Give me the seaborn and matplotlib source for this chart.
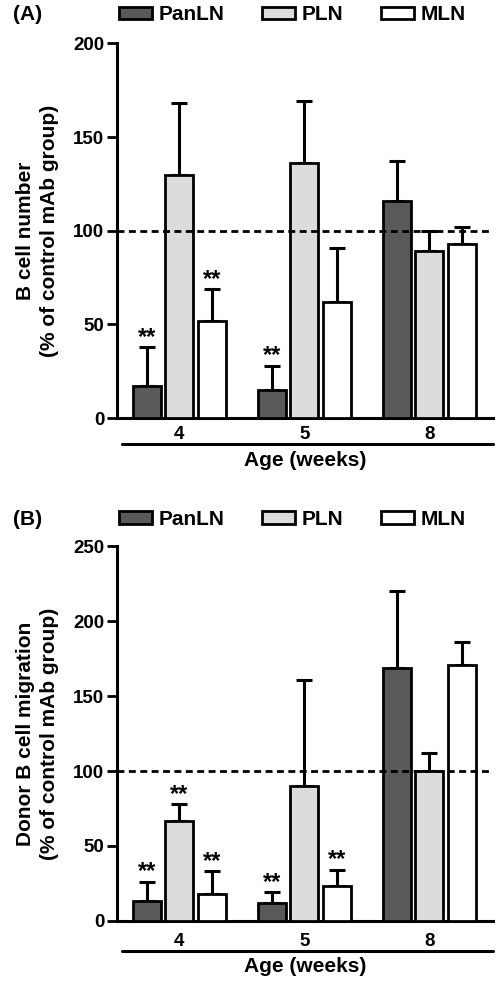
import matplotlib
matplotlib.use("Agg")
import matplotlib.pyplot as plt
import seaborn as sns
import pandas as pd
from matplotlib.patches import Patch
from matplotlib.lines import Line2D

ages = ["4", "5", "8"]
tissues = ["PanLN", "PLN", "MLN"]
colors = ["#595959", "#dcdcdc", "#ffffff"]

# Panel A: B cell number (% of control mAb group)
a_panln = [17, 15, 116]
a_panln_sem = [21, 13, 21]
a_pln = [130, 136, 89]
a_pln_sem = [38, 33, 11]
a_mln = [52, 62, 93]
a_mln_sem = [17, 29, 9]
a_sig = {"PanLN": [1, 1, 0], "PLN": [0, 0, 0], "MLN": [1, 0, 0]}

# Panel B: Donor B cell migration (% of control mAb group)
b_panln = [13, 12, 169]
b_panln_sem = [13, 7, 51]
b_pln = [67, 90, 100]
b_pln_sem = [11, 71, 12]
b_mln = [18, 23, 171]
b_mln_sem = [15, 11, 15]
b_sig = {"PanLN": [1, 1, 0], "PLN": [1, 0, 0], "MLN": [1, 1, 0]}

yticks_a = [0, 50, 100, 150, 200]
yticks_b = [0, 50, 100, 150, 200, 250]

sns.set_theme(style="ticks")
plt.rcParams["font.family"] = ["Liberation Sans", "DejaVu Sans"]
plt.rcParams["font.weight"] = "bold"
for key in ["text.color", "axes.labelcolor", "xtick.color", "ytick.color", "axes.edgecolor"]:
    plt.rcParams[key] = "black"

fig = plt.figure(figsize=(5.04, 9.86), dpi=100)
axA = fig.add_axes([0.232, 0.576, 0.746, 0.380])
axB = fig.add_axes([0.232, 0.066, 0.746, 0.380])


def make_df(vals, sems, sig):
    rows = []
    for t, v, s in zip(tissues, vals, sems):
        for i, a in enumerate(ages):
            rows.append({"age": a, "tissue": t, "value": v[i], "err": s[i], "sig": sig[t][i]})
    return pd.DataFrame(rows)


def draw(ax, df, yticks, ylabel, tickpad, line_y, xlabel_y, label_letter, legend_y):
    sns.barplot(data=df, x="age", y="value", hue="tissue", order=ages, hue_order=tissues,
                palette=colors, edgecolor="black", linewidth=2.0, width=0.78, gap=0.14,
                errorbar=None, legend=False, ax=ax, zorder=3)
    bars = list(ax.patches)[: len(df)]
    k = 0
    for t in tissues:
        for a in ages:
            p = bars[k]
            k += 1
            row = df[(df["tissue"] == t) & (df["age"] == a)].iloc[0]
            val = float(row["value"])
            err = float(row["err"])
            xc = p.get_x() + p.get_width() / 2
            ax.errorbar([xc], [val], yerr=[[0.0], [err]], fmt="none", ecolor="black",
                        elinewidth=2.2, capsize=6, capthick=2.2, zorder=2)
            if row["sig"]:
                ax.text(xc, val + err - 1, "**", ha="center", va="bottom",
                        fontsize=17, fontweight="bold")
    ax.axhline(100, color="black", lw=2.0, ls=(0, (2.5, 1.6)), zorder=4)
    ax.set_xlim(-0.5, 2.51)
    ax.set_ylim(0, yticks[-1])
    ax.set_yticks(yticks)
    ax.set_yticklabels([str(v) for v in yticks], fontsize=13.5, fontweight="bold")
    ax.set_xticks(range(len(ages)))
    ax.set_xticklabels(ages, fontsize=13.5, fontweight="bold")
    ax.tick_params(axis="x", length=0, pad=tickpad)
    ax.tick_params(axis="y", length=7, width=2, pad=2)
    for s in ["top", "right"]:
        ax.spines[s].set_visible(False)
    for s in ["left", "bottom"]:
        ax.spines[s].set_linewidth(2.2)
    ax.set_ylabel(ylabel, fontsize=15, fontweight="bold", linespacing=1.3)
    ax.yaxis.set_label_coords(-0.155, 0.5)
    ax.set_xlabel("Age (weeks)", fontsize=15, fontweight="bold")
    ax.xaxis.set_label_coords(0.5, xlabel_y)
    ax.add_line(Line2D([0.013, 1.0], [line_y, line_y], transform=ax.transAxes,
                       color="black", lw=2.2, clip_on=False))
    fig.text(0.026, legend_y, label_letter, fontsize=15, fontweight="bold", va="center")
    handles = [Patch(facecolor=c, edgecolor="black", linewidth=2.0) for c in colors]
    fig.legend(handles, tissues, loc="center", bbox_to_anchor=(0.58, legend_y), ncol=3,
               frameon=False, handlelength=1.6, handleheight=0.55,
               handletextpad=0.3, columnspacing=1.8, borderaxespad=0, borderpad=0,
               prop={"weight": "bold", "size": 15})


draw(axA, make_df([a_panln, a_pln, a_mln], [a_panln_sem, a_pln_sem, a_mln_sem], a_sig),
     yticks_a, "B cell number\n(% of control mAb group)", 6, -0.069, -0.088, "(A)", 0.985)
draw(axB, make_df([b_panln, b_pln, b_mln], [b_panln_sem, b_pln_sem, b_mln_sem], b_sig),
     yticks_b, "Donor B cell migration\n(% of control mAb group)", 9, -0.08, -0.096, "(B)", 0.473)

fig.savefig("out.png", dpi=100, facecolor="white")
